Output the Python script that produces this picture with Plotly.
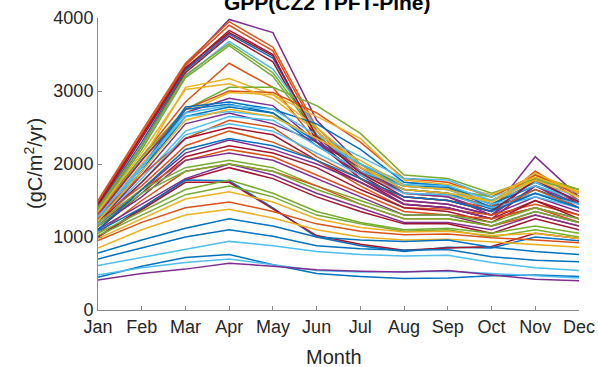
import plotly.graph_objects as go

months = ["Jan", "Feb", "Mar", "Apr", "May", "Jun", "Jul", "Aug", "Sep", "Oct", "Nov", "Dec"]
y_ticks = [0, 1000, 2000, 3000, 4000]

# Monthly GPP (gC/m^2/yr) for each simulation run
run_01 = [1450, 2400, 3350, 3980, 3800, 2600, 2000, 1600, 1550, 1350, 2100, 1550]
run_02 = [1500, 2450, 3380, 3950, 3600, 2500, 1950, 1650, 1600, 1400, 1900, 1500]
run_03 = [1480, 2420, 3350, 3900, 3550, 2450, 1900, 1600, 1580, 1420, 1850, 1600]
run_04 = [1420, 2350, 3300, 3830, 3500, 2300, 1850, 1500, 1450, 1300, 1800, 1450]
run_05 = [1400, 2300, 3280, 3780, 3450, 2400, 1900, 1700, 1650, 1450, 1750, 1500]
run_06 = [1380, 2250, 3250, 3750, 3400, 2350, 1800, 1450, 1400, 1250, 1700, 1400]
run_07 = [1350, 2200, 3200, 3680, 3300, 2500, 2000, 1750, 1700, 1500, 1800, 1600]
run_08 = [1400, 2250, 3220, 3650, 3250, 2450, 1950, 1700, 1650, 1550, 1850, 1650]
run_09 = [1380, 2200, 3180, 3620, 3200, 2400, 1900, 1650, 1600, 1500, 1780, 1620]
run_10 = [1350, 2100, 2850, 3380, 3050, 2300, 1800, 1550, 1500, 1400, 1900, 1550]
run_11 = [1300, 2050, 3050, 3170, 2950, 2500, 2000, 1600, 1550, 1500, 1800, 1650]
run_12 = [1300, 2100, 2750, 3050, 3050, 2800, 2420, 1850, 1800, 1600, 1800, 1650]
run_13 = [1320, 2050, 2750, 3000, 2980, 2700, 2300, 1800, 1750, 1550, 1850, 1600]
run_14 = [1280, 2000, 2700, 2980, 2950, 2650, 2350, 1780, 1720, 1580, 1820, 1620]
run_15 = [1300, 2050, 2700, 2900, 2800, 2300, 1800, 1500, 1450, 1300, 1700, 1450]
run_16 = [1250, 1950, 2780, 2850, 2750, 2550, 2200, 1750, 1700, 1450, 1700, 1500]
run_17 = [1230, 1900, 2750, 2820, 2700, 2300, 2000, 1700, 1680, 1400, 1650, 1450]
run_18 = [1250, 1950, 2700, 2800, 2750, 2400, 2100, 1800, 1780, 1550, 1750, 1550]
run_19 = [1200, 1900, 2650, 2780, 2700, 2250, 1900, 1650, 1600, 1380, 1600, 1400]
run_20 = [1200, 1850, 2550, 2700, 2550, 2300, 1950, 1600, 1550, 1300, 1550, 1350]
run_21 = [1180, 1800, 2450, 2650, 2600, 2250, 1900, 1700, 1650, 1450, 1600, 1450]
run_22 = [1300, 1850, 2350, 2600, 2500, 2100, 1800, 1550, 1500, 1350, 1650, 1400]
run_23 = [1150, 1750, 2400, 2550, 2450, 2150, 1850, 1600, 1580, 1400, 1550, 1400]
run_24 = [1200, 1750, 2350, 2500, 2400, 2050, 1750, 1450, 1400, 1250, 1500, 1300]
run_25 = [1250, 1700, 2250, 2450, 2300, 2050, 1700, 1400, 1380, 1300, 1450, 1300]
run_26 = [1150, 1650, 2150, 2330, 2200, 2000, 1750, 1450, 1400, 1250, 1400, 1250]
run_27 = [1100, 1600, 2100, 2250, 2150, 1950, 1650, 1400, 1350, 1200, 1500, 1250]
run_28 = [1200, 1650, 2050, 2200, 2100, 1850, 1600, 1350, 1300, 1250, 1400, 1200]
run_29 = [1150, 1550, 2050, 2150, 2050, 1800, 1550, 1300, 1300, 1150, 1350, 1200]
run_30 = [1200, 1650, 1950, 2050, 1950, 1700, 1500, 1300, 1300, 1200, 1400, 1250]
run_31 = [1050, 1500, 1900, 2000, 1900, 1700, 1450, 1250, 1250, 1150, 1300, 1150]
run_32 = [1100, 1450, 1800, 2000, 1850, 1600, 1400, 1200, 1200, 1100, 1300, 1150]
run_33 = [1000, 1400, 1780, 1950, 1800, 1550, 1350, 1180, 1180, 1050, 1250, 1100]
run_34 = [1080, 1400, 1780, 1770, 1400, 1000, 880, 800, 860, 850, 1000, 950]
run_35 = [1000, 1380, 1750, 1750, 1380, 1020, 900, 820, 850, 870, 1050, 980]
run_36 = [1050, 1350, 1650, 1780, 1600, 1350, 1200, 1100, 1120, 1050, 1150, 1050]
run_37 = [1020, 1300, 1580, 1700, 1550, 1300, 1180, 1080, 1100, 1000, 1100, 1000]
run_38 = [980, 1250, 1520, 1620, 1480, 1250, 1130, 1070, 1080, 1020, 1050, 980]
run_39 = [950, 1200, 1400, 1480, 1350, 1180, 1080, 1030, 1040, 990, 960, 920]
run_40 = [850, 1100, 1300, 1380, 1260, 1100, 1000, 960, 970, 930, 900, 860]
run_41 = [780, 960, 1120, 1250, 1150, 1000, 960, 940, 960, 860, 800, 760]
run_42 = [700, 850, 1000, 1100, 1010, 880, 840, 820, 830, 730, 680, 660]
run_43 = [610, 720, 840, 940, 880, 800, 760, 740, 750, 650, 580, 540]
run_44 = [450, 600, 720, 760, 620, 500, 460, 430, 440, 470, 480, 460]
run_45 = [480, 580, 650, 700, 620, 540, 520, 520, 530, 500, 470, 440]
run_46 = [410, 500, 560, 640, 600, 550, 530, 520, 540, 480, 420, 400]
run_47 = [1350, 2150, 3020, 3100, 2900, 2450, 1950, 1650, 1600, 1480, 1880, 1600]
run_48 = [1280, 1980, 2650, 2720, 2650, 2350, 2000, 1720, 1700, 1500, 1700, 1500]
run_49 = [1150, 1600, 1900, 2000, 1900, 1650, 1450, 1250, 1250, 1150, 1350, 1200]
run_50 = [1450, 2380, 3320, 3800, 3480, 2380, 1880, 1550, 1500, 1350, 1780, 1480]
run_51 = [1220, 1900, 2600, 2750, 2650, 2350, 2050, 1700, 1650, 1480, 1780, 1550]
run_52 = [1100, 1650, 2200, 2350, 2250, 2050, 1800, 1550, 1500, 1350, 1600, 1400]

runs = [run_01, run_02, run_03, run_04, run_05, run_06, run_07, run_08, run_09, run_10,
        run_11, run_12, run_13, run_14, run_15, run_16, run_17, run_18, run_19, run_20,
        run_21, run_22, run_23, run_24, run_25, run_26, run_27, run_28, run_29, run_30,
        run_31, run_32, run_33, run_34, run_35, run_36, run_37, run_38, run_39, run_40,
        run_41, run_42, run_43, run_44, run_45, run_46, run_47, run_48, run_49, run_50,
        run_51, run_52]

# MATLAB default line colour order
palette = ["#0072BD", "#D95319", "#EDB120", "#7E2F8E", "#77AC30", "#4DBEEE", "#A2142F"]
color_idx = [3, 1, 1, 6, 0, 6, 5, 4, 4, 1,
             2, 4, 1, 2, 3, 0, 0, 5, 0, 3,
             5, 1, 5, 6, 1, 3, 6, 1, 3, 4,
             1, 3, 6, 0, 6, 4, 4, 2, 1, 2,
             0, 0, 5, 0, 5, 3, 2, 5, 4, 6,
             2, 0]

fig = go.Figure()
for run, ci in zip(runs, color_idx):
    fig.add_trace(go.Scatter(
        x=list(range(len(months))), y=run, mode="lines",
        line=dict(color=palette[ci], width=1.5),
        showlegend=False, hoverinfo="skip",
    ))

text_color = "#262626"
axis_color = "#8a8a8a"

fig.update_layout(
    width=598, height=367,
    margin=dict(l=98, r=19, t=18, b=57, autoexpand=False),
    plot_bgcolor="white", paper_bgcolor="white",
    showlegend=False,
    font=dict(family="Liberation Sans, Arial, sans-serif", size=18, color=text_color),
    xaxis=dict(
        range=[0, 11], tickvals=list(range(12)), ticktext=months,
        showline=True, linecolor=axis_color, linewidth=1,
        ticks="inside", ticklen=4, tickcolor=axis_color,
        showgrid=False, zeroline=False, automargin=False,
        tickfont=dict(size=18, color=text_color),
    ),
    yaxis=dict(
        range=[0, 4000], tickvals=y_ticks,
        showline=True, linecolor=axis_color, linewidth=1,
        ticks="inside", ticklen=4, tickcolor=axis_color,
        showgrid=False, zeroline=False, automargin=False,
        tickfont=dict(size=18, color=text_color),
    ),
    annotations=[
        dict(text="<b>GPP(CZ2 TPFT-Pine)</b>", xref="paper", yref="paper",
             x=0.477, y=1.0, xanchor="center", yanchor="bottom", yshift=2,
             showarrow=False, font=dict(size=21, color="black")),
        dict(text="Month", xref="paper", yref="paper", x=0.49, y=0,
             xanchor="center", yanchor="top", yshift=-34, showarrow=False,
             font=dict(size=20, color=text_color)),
        dict(text="(gC/m<sup>2</sup>/yr)", xref="paper", yref="paper", x=0, y=0.5,
             xanchor="center", yanchor="middle", xshift=-65, textangle=-90,
             showarrow=False, font=dict(size=20, color=text_color)),
    ],
)

fig.write_html("out.html")
